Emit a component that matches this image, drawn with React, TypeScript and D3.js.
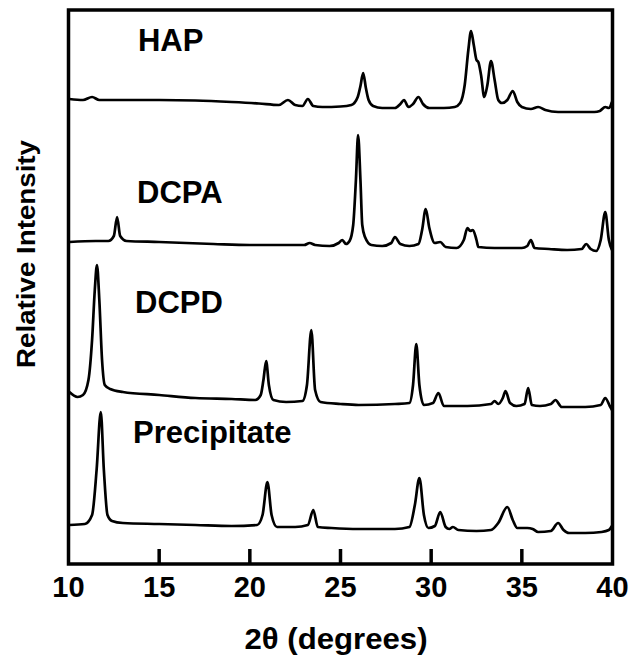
import React from "react";
import * as d3 from "d3";

// 2θ (degrees) vs relative intensity (arbitrary units, baseline offsets included)
const hapTheta = [10.05, 10.8, 11.3, 11.7, 13, 15, 17, 19, 20.5, 21.6, 22.1, 22.5, 22.9, 23.2, 23.5, 24, 25, 25.6, 25.95, 26.1, 26.25, 26.4, 26.55, 26.8, 27.3, 28.0, 28.3, 28.5, 28.75, 29.0, 29.3, 29.55, 29.9, 30.7, 31.3, 31.6, 31.85, 32.05, 32.2, 32.35, 32.5, 32.6, 32.75, 32.93, 33.1, 33.3, 33.5, 33.7, 33.9, 34.2, 34.5, 34.75, 35.0, 35.5, 35.9, 36.3, 37, 38, 39, 39.3, 39.6, 39.8, 39.97];
const hapIntensity = [465, 464, 467, 464, 464, 464, 463.5, 462, 460.5, 459, 464, 459, 458, 465, 458, 457, 457.5, 459, 467, 478, 491, 476, 464, 458, 456, 456, 460, 464, 457, 460, 467, 460, 456, 456, 457, 461, 479, 514, 533, 519, 504, 502, 489, 467, 479, 503, 484, 464, 461, 464, 473, 462, 457, 455, 457, 454, 452, 452, 452, 453, 457, 456, 462];

const dcpaTheta = [10.05, 11.5, 12.2, 12.5, 12.68, 12.85, 13.2, 15, 18, 20, 22, 23.0, 23.3, 23.6, 24.4, 24.9, 25.1, 25.3, 25.5, 25.7, 25.85, 25.97, 26.1, 26.2, 26.35, 26.7, 27.3, 27.8, 28.0, 28.3, 28.8, 29.3, 29.5, 29.7, 29.9, 30.2, 30.5, 30.8, 31.4, 31.8, 32.0, 32.15, 32.3, 32.5, 32.6, 33.5, 35, 35.3, 35.5, 35.7, 36.5, 37.5, 38.3, 38.55, 38.8, 39.1, 39.35, 39.6, 39.8, 39.97];
const dcpaIntensity = [322, 323, 323, 328, 347, 328, 323, 322, 320, 319, 319, 319, 321, 319, 318, 321, 324, 320, 323, 339, 384, 429, 384, 339, 327, 319, 318, 321, 327, 320, 318, 320, 334, 355, 336, 321, 322, 317, 316, 324, 336, 333, 334, 324, 317, 316, 316, 318, 324, 316, 315, 314, 315, 320, 315, 313, 324, 352, 324, 314];

const dcpdTheta = [10.05, 10.5, 10.8, 11.1, 11.3, 11.45, 11.57, 11.7, 11.85, 12.0, 12.3, 13, 15, 17, 19, 20.3, 20.6, 20.75, 20.9, 21.05, 21.3, 22.0, 22.9, 23.15, 23.39, 23.6, 23.9, 25, 26, 28, 28.8, 29.0, 29.18, 29.35, 29.6, 30.1, 30.4, 30.7, 32, 33.3, 33.5, 33.7, 33.95, 34.1, 34.35, 34.7, 35.15, 35.35, 35.55, 36.0, 36.6, 36.85, 37.2, 38.5, 39.35, 39.6, 39.85, 39.97];
const dcpdIntensity = [172, 167, 169, 184, 224, 274, 299, 264, 204, 179, 175, 172, 169, 166, 165, 164, 169, 184, 203, 179, 164, 162, 163, 179, 234, 174, 162, 160, 159, 160, 161, 179, 220, 179, 159, 161, 171, 158, 158, 160, 163, 160, 166, 173, 161, 158, 160, 176, 159, 158, 160, 164, 157, 157, 159, 166, 158, 154];

const precipTheta = [10.05, 10.9, 11.3, 11.55, 11.78, 11.95, 12.15, 12.4, 13, 15, 17, 19, 20.4, 20.7, 20.97, 21.2, 21.5, 22.5, 23.2, 23.5, 23.75, 24.5, 26, 28, 28.8, 29.1, 29.35, 29.6, 29.85, 30.2, 30.5, 30.8, 31.0, 31.2, 31.5, 32.5, 33.3, 33.7, 34.2, 34.5, 34.75, 35.3, 35.6, 35.9, 36.6, 37.0, 37.3, 37.6, 38.5, 39.4, 39.8, 39.97];
const precipIntensity = [39, 40, 49, 94, 152, 94, 49, 43, 41, 40, 39, 38, 39, 49, 82, 49, 37, 37, 39, 54, 37, 36, 35, 35, 37, 59, 86, 49, 36, 38, 52, 37, 35, 37, 34, 33, 34, 41, 57, 44, 36, 36, 35, 32, 33, 41, 34, 31, 31, 32, 34, 38];

const seriesNames = ["HAP", "DCPA", "DCPD", "Precipitate"];
const xTicks = [10, 15, 20, 25, 30, 35, 40];

const W = 631;
const H = 667;
const left = 68.5;
const right = 612.5;
const top = 10;
const bottom = 564;

export default function App() {
  const x = d3.scaleLinear().domain([10, 40]).range([left, right]);
  const y = d3.scaleLinear().domain([0, 554]).range([bottom, top]);
  const line = d3
    .line<[number, number]>()
    .x((d) => x(d[0]))
    .y((d) => y(d[1]))
    .curve(d3.curveMonotoneX);

  const series = [
    { name: seriesNames[0], t: hapTheta, v: hapIntensity, lx: 13.83, ly: 513 },
    { name: seriesNames[1], t: dcpaTheta, v: dcpaIntensity, lx: 13.78, ly: 361 },
    { name: seriesNames[2], t: dcpdTheta, v: dcpdIntensity, lx: 13.67, ly: 251 },
    { name: seriesNames[3], t: precipTheta, v: precipIntensity, lx: 13.56, ly: 121 },
  ];

  const font = "'Liberation Sans', Arial, Helvetica, sans-serif";

  return (
    <svg
      width={W}
      height={H}
      style={{ position: "absolute", left: 0, top: 0, background: "#fff" }}
      fontFamily={font}
    >
      <rect x={0} y={0} width={W} height={H} fill="#fff" />
      {series.map((s) => (
        <g key={s.name}>
          <path
            d={line(s.t.map((t, i) => [t, s.v[i]] as [number, number])) || ""}
            fill="none"
            stroke="#000"
            strokeWidth={2.7}
            strokeLinejoin="round"
          />
          <text x={x(s.lx)} y={y(s.ly)} fontSize={31} fontWeight="bold" fill="#000">
            {s.name}
          </text>
        </g>
      ))}
      {/* frame */}
      <rect
        x={left}
        y={top}
        width={right - left}
        height={bottom - top}
        fill="none"
        stroke="#000"
        strokeWidth={3.5}
      />
      {/* ticks */}
      {xTicks.slice(1, -1).map((t) => (
        <line key={t} x1={x(t)} x2={x(t)} y1={bottom} y2={bottom - 15} stroke="#000" strokeWidth={3.5} />
      ))}
      {xTicks.map((t) => (
        <text key={"l" + t} x={x(t)} y={597} fontSize={29} fontWeight="bold" textAnchor="middle" fill="#000">
          {t}
        </text>
      ))}
      <text x={336} y={649} fontSize={29} fontWeight="bold" textAnchor="middle" fill="#000" textLength={183} lengthAdjust="spacingAndGlyphs">
        2θ (degrees)
      </text>
      <text
        transform={`translate(35, 254) rotate(-90)`}
        fontSize={25}
        fontWeight="bold"
        textAnchor="middle"
        fill="#000"
        textLength={228}
        lengthAdjust="spacingAndGlyphs"
      >
        Relative Intensity
      </text>
    </svg>
  );
}
